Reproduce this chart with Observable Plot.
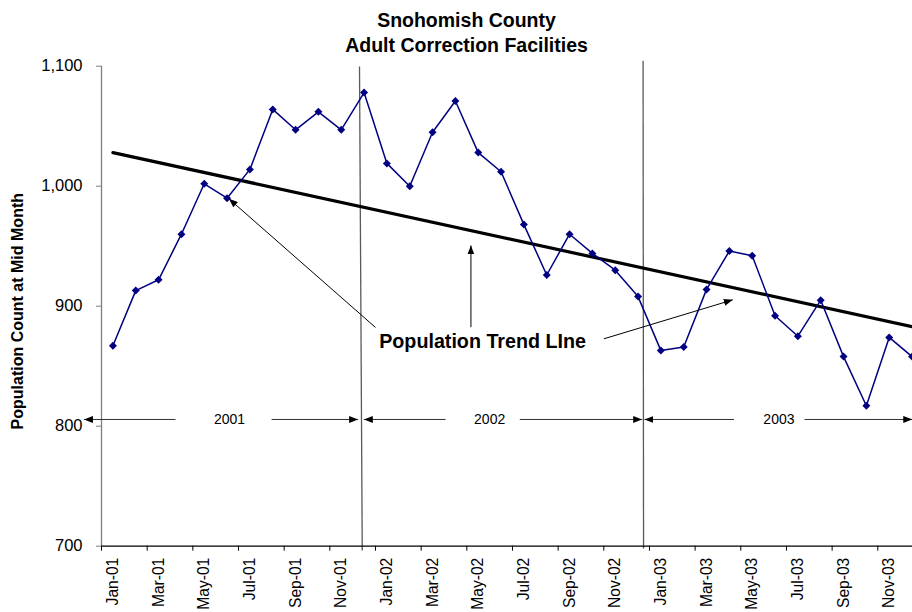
<!DOCTYPE html>
<html>
<head>
<meta charset="utf-8">
<script src="https://cdn.jsdelivr.net/npm/d3@7"></script>
<script src="https://cdn.jsdelivr.net/npm/@observablehq/plot@0.6"></script>
<style>
html, body { margin: 0; padding: 0; background: #fff; overflow: hidden; }
</style>
</head>
<body>
<div id="chart"></div>
<script>
// ---- data ----
const months = ["Jan-01","Feb-01","Mar-01","Apr-01","May-01","Jun-01","Jul-01","Aug-01","Sep-01","Oct-01","Nov-01","Dec-01",
                "Jan-02","Feb-02","Mar-02","Apr-02","May-02","Jun-02","Jul-02","Aug-02","Sep-02","Oct-02","Nov-02","Dec-02",
                "Jan-03","Feb-03","Mar-03","Apr-03","May-03","Jun-03","Jul-03","Aug-03","Sep-03","Oct-03","Nov-03","Dec-03"];
const population = [867, 913, 922, 960, 1002, 990, 1014, 1064, 1047, 1062, 1047, 1078,
                    1019, 1000, 1045, 1071, 1028, 1012, 968, 926, 960, 944, 930, 908,
                    863, 866, 914, 946, 942, 892, 875, 905, 858, 817, 874, 858];
const trendStart = 1028;   // trend line value at Jan-01
const trendEnd = 883;      // trend line value at Dec-03
const yTicks = [700, 800, 900, 1000, 1100];
const xTickBoundaries = [-0.5, 1.5, 3.5, 5.5, 7.5, 9.5, 11.5, 13.5, 15.5, 17.5, 19.5, 21.5, 23.5, 25.5, 27.5, 29.5, 31.5, 33.5];
const xDomain = [-0.5, 35.02];
const yDomain = [700, 1100];

const titleLines = ["Snohomish County", "Adult Correction Facilities"];
const yTitle = "Population Count at Mid Month";
const annotationText = "Population Trend LIne";
const annotationPos = {x: 16.19, y: 870.6};

const years = ["2001", "2002", "2003"];
const yearLabelX = [5.11, 16.5, 29.17];
const yearArrowY = 805.6;
const yearArrows = [
  {x1: 2.74, x2: -1.27}, {x1: 6.95, x2: 10.74},
  {x1: 14.57, x2: 10.99}, {x1: 17.82, x2: 23.18},
  {x1: 27.20, x2: 23.28}, {x1: 30.29, x2: 35.01}
];
const separators = [
  {x1: 10.80, y1: 1099.8, x2: 10.92, y2: 696.4},
  {x1: 23.22, y1: 1104.5, x2: 23.24, y2: 698.0}
];
const trendArrows = [
  {x1: 11.50, y1: 882.3, x2: 5.08, y2: 989.5},
  {x1: 15.68, y1: 882.5, x2: 15.68, y2: 950.6},
  {x1: 21.50, y1: 872.8, x2: 27.15, y2: 905.3}
];

// ---- tables built from the arrays ----
const series = population.map((v, i) => ({i, v, m: months[i]}));
const trend = [{i: 0, v: trendStart}, {i: months.length - 1, v: trendEnd}];
const xLabels = series.filter((d) => d.i % 2 === 0);
const yearLabelData = years.map((t, k) => ({t, x: yearLabelX[k], y: yearArrowY}));
const yearArrowData = yearArrows.map((a) => ({...a, y: yearArrowY}));

const font = "'Liberation Sans', Arial, Helvetica, sans-serif";

const chart = Plot.plot({
  width: 912,
  height: 612,
  marginLeft: 101,
  marginRight: 0,
  marginTop: 65.7,
  marginBottom: 66.3,
  style: {fontFamily: font, fontSize: "15px", background: "white", color: "black"},
  x: {domain: xDomain, axis: null},
  y: {domain: yDomain, axis: null},
  marks: [
    // separators between years
    Plot.link(separators, {x1: "x1", y1: "y1", x2: "x2", y2: "y2", stroke: "#5a5a5a", strokeWidth: 1.3, ariaDescription: "separators"}),
    // y axis
    Plot.ruleX([xDomain[0]], {stroke: "#808080", strokeWidth: 1.3}),
    Plot.axisY(yTicks, {tickSize: 5, tickPadding: 14, tickFormat: d3.format(","), stroke: "#808080", fontSize: 16.5, label: null}),
    // x axis
    Plot.ruleY([yDomain[0]], {stroke: "black", strokeWidth: 1.2}),
    Plot.axisX(xTickBoundaries, {tickSize: 5, tickFormat: () => "", stroke: "black", label: null}),
    Plot.text(xLabels, {x: "i", frameAnchor: "bottom", text: "m", rotate: -90, textAnchor: "end", lineAnchor: "middle", dy: 11.5, fontSize: 15.6}),
    // year spans
    Plot.link(yearArrowData, {x1: "x1", y1: "y", x2: "x2", y2: "y", stroke: "#333", strokeWidth: 1, ariaDescription: "arrows"}),
    Plot.text(yearLabelData, {x: "x", y: "y", text: "t", fontSize: 14, lineAnchor: "middle"}),
    // trend line
    Plot.line(trend, {x: "i", y: "v", stroke: "black", strokeWidth: 3.2}),
    // data series
    Plot.line(series, {x: "i", y: "v", stroke: "#000080", strokeWidth: 1.5}),
    Plot.dot(series, {x: "i", y: "v", symbol: "diamond2", r: 3.6, fill: "#000080", stroke: "none"}),
    // annotation
    Plot.link(trendArrows, {x1: "x1", y1: "y1", x2: "x2", y2: "y2", stroke: "black", strokeWidth: 1, ariaDescription: "arrows"}),
    Plot.text([annotationText], {x: annotationPos.x, y: annotationPos.y, fontSize: 19.7, fontWeight: "bold", lineAnchor: "middle"}),
    // titles
    Plot.text([titleLines[0]], {frameAnchor: "top-left", dx: 365, dy: -45.7, textAnchor: "middle", lineAnchor: "middle", fontSize: 19.5, fontWeight: "bold"}),
    Plot.text([titleLines[1]], {frameAnchor: "top-left", dx: 365, dy: -20.2, textAnchor: "middle", lineAnchor: "middle", fontSize: 19.5, fontWeight: "bold"}),
    Plot.text([yTitle], {frameAnchor: "left", rotate: -90, dx: -84, dy: 5, textAnchor: "middle", lineAnchor: "middle", fontSize: 16, fontWeight: "bold"})
  ]
});

// filled triangle arrowheads
const ns = "http://www.w3.org/2000/svg";
const defs = document.createElementNS(ns, "defs");
const marker = document.createElementNS(ns, "marker");
marker.setAttribute("id", "tri-head");
marker.setAttribute("viewBox", "0 0 10 10");
marker.setAttribute("refX", "10");
marker.setAttribute("refY", "5");
marker.setAttribute("markerWidth", "9");
marker.setAttribute("markerHeight", "7");
marker.setAttribute("markerUnits", "userSpaceOnUse");
marker.setAttribute("orient", "auto");
marker.setAttribute("preserveAspectRatio", "none");
const tri = document.createElementNS(ns, "path");
tri.setAttribute("d", "M0,0L10,5L0,10Z");
tri.setAttribute("fill", "black");
marker.appendChild(tri);
defs.appendChild(marker);
chart.insertBefore(defs, chart.firstChild);
chart.querySelectorAll('g[aria-description="arrows"] path').forEach((p) => p.setAttribute("marker-end", "url(#tri-head)"));

document.getElementById("chart").appendChild(chart);
</script>
</body>
</html>
